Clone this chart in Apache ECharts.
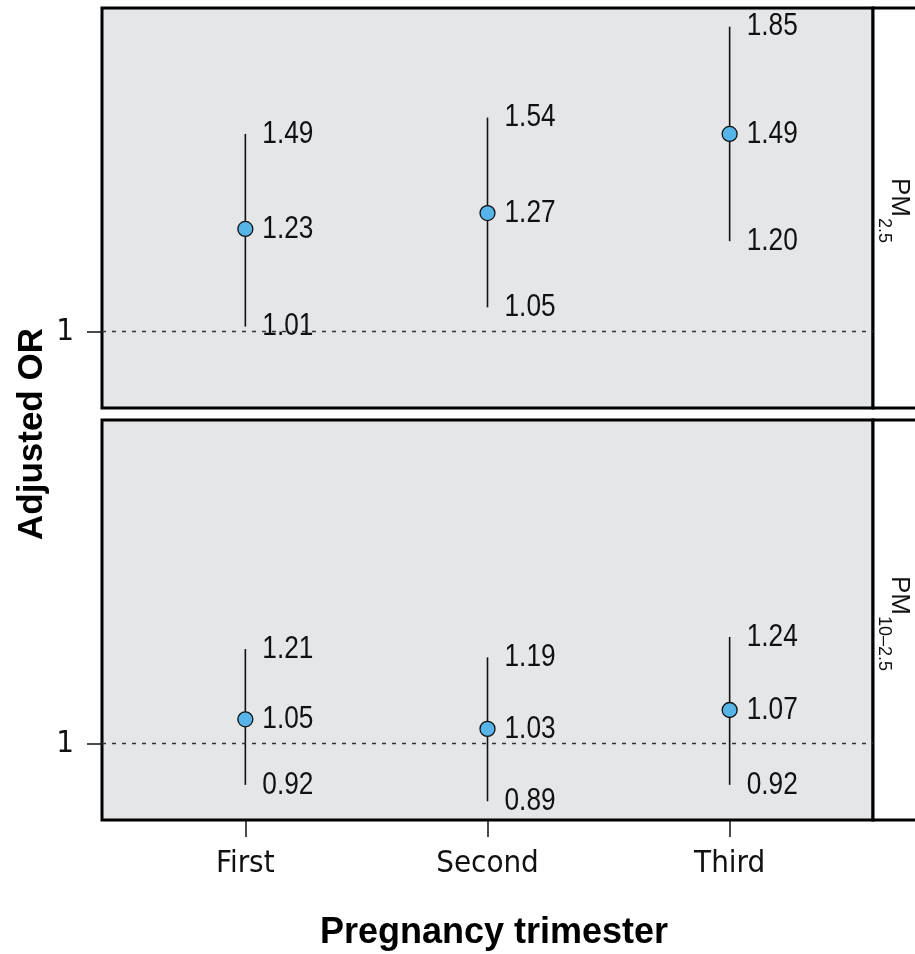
<!DOCTYPE html>
<html>
<head>
<meta charset="utf-8">
<script src="https://cdn.jsdelivr.net/npm/echarts@6/dist/echarts.min.js"></script>
<style>
html,body{margin:0;padding:0;background:#fff;}
#chart{width:915px;height:954px;}
</style>
</head>
<body>
<div id="chart"></div>
<script>
const categories = ['First', 'Second', 'Third'];
const catIndex = [0, 1, 2];
const pm25Est = [1.23, 1.27, 1.49];
const pm25Lo  = [1.01, 1.05, 1.20];
const pm25Hi  = [1.49, 1.54, 1.85];
const pm10Est = [1.05, 1.03, 1.07];
const pm10Lo  = [0.92, 0.89, 0.92];
const pm10Hi  = [1.21, 1.19, 1.24];
const yTicks = [1];
const yTitle = 'Adjusted OR';
const xTitle = 'Pregnancy trimester';

const NARROW = '"Liberation Sans Narrow", "DejaVu Sans Condensed", sans-serif';
const SANS = '"Liberation Sans", Arial, sans-serif';
const INK = '#111';

function rows(est, lo, hi) {
  return catIndex.map((x, i) => [x, est[i], lo[i], hi[i]]);
}

function renderBar(params, api) {
  const x = api.value(0), est = api.value(1), lo = api.value(2), hi = api.value(3);
  const pLo = api.coord([x, lo]);
  const pHi = api.coord([x, hi]);
  const pE = api.coord([x, est]);
  const txt = (p, v) => ({
    type: 'text', x: p[0] + 17, y: p[1], scaleX: 0.82,
    style: { text: v.toFixed(2), fill: INK, fontSize: 32, fontFamily: SANS, align: 'left', verticalAlign: 'middle' }
  });
  return {
    type: 'group',
    children: [
      { type: 'line', shape: { x1: pLo[0], y1: pLo[1], x2: pHi[0], y2: pHi[1] }, style: { stroke: INK, lineWidth: 1.6 } },
      txt(pHi, hi), txt(pE, est), txt(pLo, lo)
    ]
  };
}

const grids = [
  { left: 102, right: 42, top: 8, height: 400 },
  { left: 102, right: 42, top: 420, height: 400 }
].map(g => Object.assign(g, { show: true, backgroundColor: '#e5e6e8', borderColor: '#000', borderWidth: 3 }));

function xAxis(i, showLabels) {
  return {
    type: 'value', gridIndex: i, min: -0.592, max: 2.592, position: 'bottom',
    axisLine: { show: false, onZero: false }, splitLine: { show: false },
    axisTick: { show: showLabels, customValues: catIndex, length: 17, lineStyle: { color: INK, width: 1.5 } },
    axisLabel: { show: showLabels, customValues: catIndex, formatter: v => categories[Math.round(v)] || '',
      fontSize: 31, fontFamily: NARROW, color: INK, margin: 28 }
  };
}
function yAxis(i) {
  return {
    type: 'log', logBase: 10, gridIndex: i, min: 0.857, max: 1.921, position: 'left',
    axisLine: { show: false, onZero: false }, splitLine: { show: false },
    axisTick: { show: true, customValues: yTicks, length: 15, lineStyle: { color: INK, width: 1.5 } },
    axisLabel: { show: true, customValues: yTicks, formatter: v => String(Math.round(v * 100) / 100),
      fontSize: 31, fontFamily: NARROW, color: INK, margin: 28 }
  };
}

function panelSeries(i, est, lo, hi) {
  const data = rows(est, lo, hi);
  return [
    {
      type: 'custom', xAxisIndex: i, yAxisIndex: i, data: data, renderItem: renderBar,
      encode: { x: 0, y: [1, 2, 3] }, silent: true, clip: false,
      markLine: {
        silent: true, symbol: 'none', label: { show: false },
        lineStyle: { color: '#333', type: [4, 6], width: 1.3 },
        data: [{ yAxis: 1 }]
      }
    },
    {
      type: 'scatter', xAxisIndex: i, yAxisIndex: i, data: data.map(r => [r[0], r[1]]),
      symbol: 'circle', symbolSize: 15, z: 5, silent: true,
      itemStyle: { color: '#56B4E9', borderColor: '#111', borderWidth: 1.3, opacity: 1 }
    }
  ];
}

function stripText(yAnchor, sub) {
  return [
    { type: 'text', x: 912, y: yAnchor, rotation: -Math.PI / 2,
      style: { text: 'PM', fill: INK, fontSize: 26, fontFamily: SANS, align: 'right', verticalAlign: 'top' } },
    { type: 'text', x: 893, y: yAnchor + 1, rotation: -Math.PI / 2,
      style: { text: sub, fill: INK, fontSize: 18, fontFamily: SANS, align: 'left', verticalAlign: 'top' } }
  ];
}

const chart = echarts.init(document.getElementById('chart'), null, { renderer: 'canvas' });
chart.setOption({
  animation: false,
  backgroundColor: '#fff',
  grid: grids,
  xAxis: [xAxis(0, false), xAxis(1, true)],
  yAxis: [yAxis(0), yAxis(1)],
  series: [].concat(panelSeries(0, pm25Est, pm25Lo, pm25Hi), panelSeries(1, pm10Est, pm10Lo, pm10Hi)),
  graphic: [
    { type: 'rect', shape: { x: 873, y: 8, width: 60, height: 400 }, style: { fill: '#fff', stroke: '#000', lineWidth: 3 }, z: 1 },
    { type: 'rect', shape: { x: 873, y: 420, width: 60, height: 400 }, style: { fill: '#fff', stroke: '#000', lineWidth: 3 }, z: 1 },
    ...stripText(217, '2.5').map(e => Object.assign(e, { z: 2 })),
    ...stripText(615, '10\u20132.5').map(e => Object.assign(e, { z: 2 })),
    { type: 'text', x: 32, y: 434, rotation: Math.PI / 2,
      style: { text: yTitle, fill: '#000', fontSize: 35, fontWeight: 'bold', fontFamily: SANS, align: 'center', verticalAlign: 'middle' } },
    { type: 'text', x: 494, y: 933,
      style: { text: xTitle, fill: '#000', fontSize: 36, fontWeight: 'bold', fontFamily: SANS, align: 'center', verticalAlign: 'middle' } }
  ]
});
</script>
</body>
</html>
